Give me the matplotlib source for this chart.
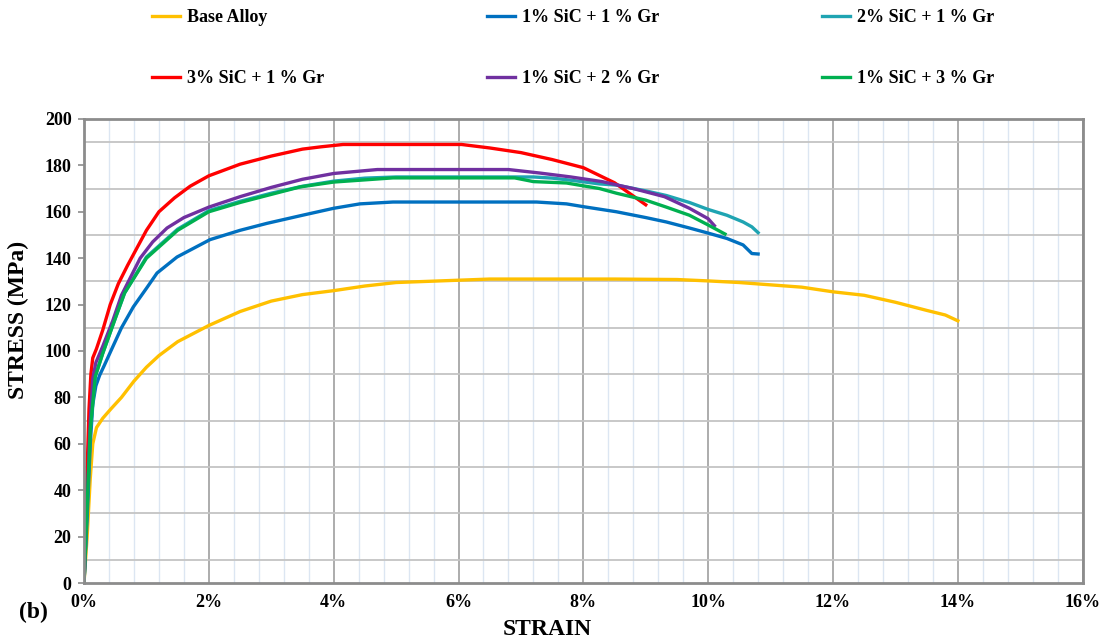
import numpy as np
import matplotlib
matplotlib.use('Agg')
import matplotlib.pyplot as plt
from matplotlib.ticker import MultipleLocator, FuncFormatter

plt.rcParams['font.family'] = ['Liberation Serif', 'DejaVu Serif']
plt.rcParams['font.weight'] = 'bold'

# strain in %, stress in MPa
base_strain = [0, 0.05, 0.1, 0.14, 0.2, 0.3, 0.43, 0.6, 0.8, 1.0, 1.2, 1.5, 2.0, 2.5, 3.0,
               3.5, 4.0, 4.5, 5.0, 5.5, 6.0, 6.5, 7.5, 8.5, 9.5, 10.0, 10.5, 11.0, 11.5,
               12.0, 12.5, 13.0, 13.5, 13.8, 14.0]
base_stress = [0, 20, 45, 60, 67, 71, 75, 80, 87, 93, 98, 104, 111, 117, 121.5,
               124.3, 126, 128, 129.5, 130, 130.5, 131, 131, 131, 130.8, 130.2, 129.5, 128.5, 127.5,
               125.5, 124, 121, 117.5, 115.5, 113]

sic1_gr1_strain = [0, 0.05, 0.1, 0.14, 0.19, 0.25, 0.32, 0.43, 0.6, 0.79, 1.0, 1.17, 1.49, 2.02,
                   2.5, 2.93, 3.5, 4.0, 4.42, 4.95, 7.25, 7.73, 8.0, 8.53, 9.0, 9.33, 9.7,
                   10.0, 10.3, 10.56, 10.7, 10.8]
sic1_gr1_stress = [0, 28, 60, 77, 85, 89.5, 93.5, 100, 110, 119, 127, 133.6, 140.5, 148,
                   152, 155, 158.5, 161.5, 163.4, 164.2, 164.2, 163.4, 162.2, 160, 157.5, 155.6, 153,
                   150.8, 148.5, 145.7, 142, 141.8]

sic2_gr1_strain = [0, 0.05, 0.1, 0.18, 0.3, 0.5, 0.65, 1.0, 1.5, 2.0, 2.5, 3.0, 3.5, 4.0, 4.5,
                   5.0, 7.2, 7.5, 7.83, 8.26, 8.53, 9.0, 9.33, 9.7, 10.0, 10.3, 10.56, 10.7, 10.8]
sic2_gr1_stress = [0, 33, 66, 89, 99, 114, 125, 140.5, 152.5, 160.5, 164.5, 168, 171, 173.2, 174.5,
                   175, 175, 174.5, 173.5, 172, 171.5, 169, 167, 164, 161, 158.5, 155.6, 153.5, 151]

sic3_gr1_strain = [0, 0.04, 0.08, 0.11, 0.14, 0.2, 0.3, 0.42, 0.55, 0.7, 1.0, 1.2, 1.45, 1.7,
                   2.0, 2.5, 3.0, 3.5, 3.8, 4.15, 5.0, 6.05, 6.5, 7.0, 7.5, 8.0, 8.5, 9.0]
sic3_gr1_stress = [0, 40, 75, 90, 97, 101, 109, 120, 129, 137, 152, 160, 166, 171,
                   175.5, 180.5, 184, 187, 188, 189, 189, 189, 187.5, 185.5, 182.5, 179, 172.5, 163]

sic1_gr2_strain = [0, 0.05, 0.1, 0.14, 0.19, 0.3, 0.46, 0.6, 0.9, 1.1, 1.33, 1.6, 2.0, 2.5,
                   3.0, 3.5, 4.0, 4.7, 5.5, 6.8, 7.3, 7.8, 8.3, 8.8, 9.3, 9.7, 10.0, 10.1]
sic1_gr2_stress = [0, 35, 70, 88, 95, 102, 113, 124, 140, 147, 153, 157.5, 162, 166.5,
                   170.5, 174, 176.5, 178.2, 178.2, 178.2, 176.7, 175, 173, 170, 166.5, 161.5, 157, 154]

sic1_gr3_strain = [0, 0.05, 0.1, 0.18, 0.3, 0.5, 0.65, 1.0, 1.5, 2.0, 2.5, 2.93, 3.46, 4.0,
                   4.95, 6.9, 7.2, 7.73, 8.26, 8.53, 9.0, 9.33, 9.7, 10.0, 10.27]
sic1_gr3_stress = [0, 33, 66, 89, 99, 114, 125, 140, 152, 160, 164, 167, 170.7, 172.8,
                   174.6, 174.6, 173, 172.4, 170, 168, 165, 162, 158.5, 154.3, 150.4]

labels = ['Base Alloy', '1% SiC + 1 % Gr', '2% SiC + 1 % Gr',
          '3% SiC + 1 % Gr', '1% SiC + 2 % Gr', '1% SiC + 3 % Gr']
colors = ['#FFC000', '#0070C0', '#1FA4B2', '#FF0000', '#7030A0', '#00B050']
series = [(base_strain, base_stress), (sic1_gr1_strain, sic1_gr1_stress),
          (sic2_gr1_strain, sic2_gr1_stress), (sic3_gr1_strain, sic3_gr1_stress),
          (sic1_gr2_strain, sic1_gr2_stress), (sic1_gr3_strain, sic1_gr3_stress)]

fig = plt.figure(figsize=(11.07, 6.43), dpi=100)
ax = fig.add_axes([0.0759, 0.0933, 0.9021, 0.7217])

handles = []
for (x, y), c, lab in zip(series, colors, labels):
    h, = ax.plot(x, y, color=c, lw=2.4, label=lab, solid_joinstyle='round')
    handles.append(h)

ax.set_xlim(0, 16)
ax.set_ylim(0, 200)
ax.xaxis.set_major_locator(MultipleLocator(2))
ax.xaxis.set_minor_locator(MultipleLocator(0.4))
ax.yaxis.set_major_locator(MultipleLocator(20))
ax.set_yticks(np.arange(10, 200, 20), minor=True)
ax.xaxis.set_major_formatter(FuncFormatter(lambda v, p: '%d%%' % round(v)))

ax.xaxis.grid(True, which='major', color='#A6A6A6', lw=1.3)
ax.xaxis.grid(True, which='minor', color='#DCE6F2', lw=1.0)
ax.yaxis.grid(True, which='minor', color='#C4C4C4', lw=1.3)
ax.yaxis.grid(False, which='major')
ax.set_axisbelow(True)

ax.tick_params(axis='x', which='both', length=0, pad=8, labelsize=13)
ax.tick_params(axis='y', which='major', length=4, width=1.2, color='#8C8C8C',
               direction='out', pad=5, labelsize=13)
ax.tick_params(axis='y', which='minor', length=0)
for s in ax.spines.values():
    s.set_color('#8C8C8C')
    s.set_linewidth(2)

fig.text(0.017, 0.502, 'STRESS (MPa)', rotation=90, ha='center', va='center',
         fontsize=17, fontweight='bold')
fig.text(0.494, 0.021, 'STRAIN', ha='center', va='center', fontsize=17, fontweight='bold')
fig.text(0.030, 0.048, '(b)', ha='center', va='center', fontsize=17, fontweight='bold')

# legend filled column-wise, so reorder to get the row layout
order = [0, 3, 1, 4, 2, 5]
fig.legend([handles[i] for i in order], [labels[i] for i in order], ncol=3,
           loc='center', bbox_to_anchor=(0.518, 0.925), frameon=False,
           handlelength=1.55, handletextpad=0.4,
           columnspacing=9.0, labelspacing=2.45, prop={'weight': 'bold', 'size': 13})

fig.savefig('out.png', dpi=100)
